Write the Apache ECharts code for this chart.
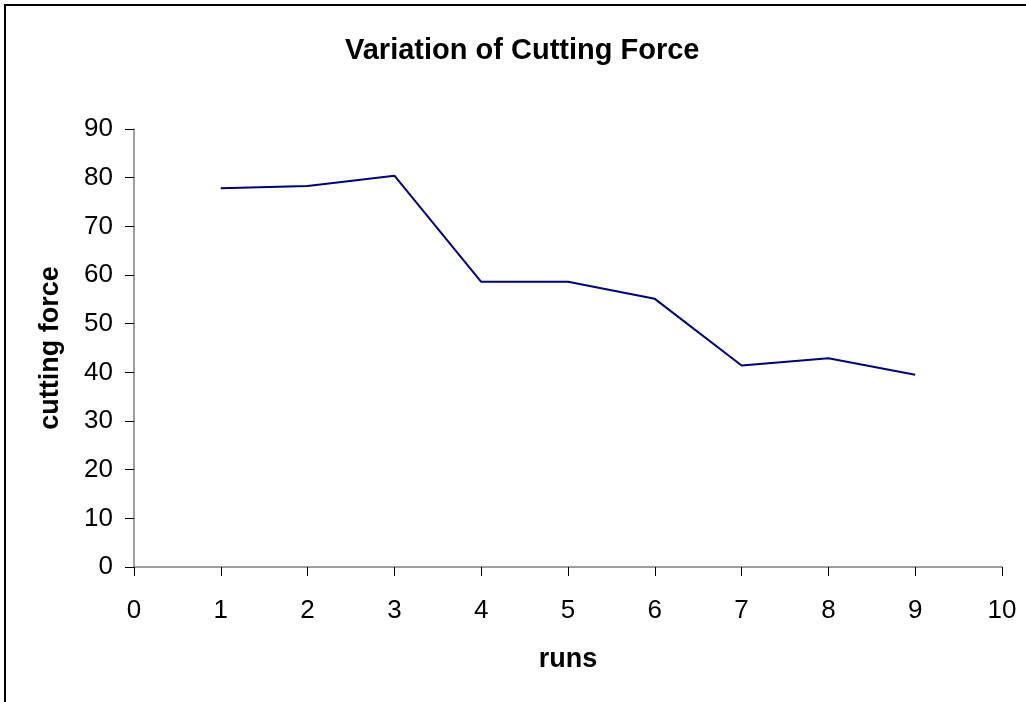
<!DOCTYPE html>
<html>
<head>
<meta charset="utf-8">
<script src="https://cdn.jsdelivr.net/npm/echarts@6/dist/echarts.min.js"></script>
<style>
html,body{margin:0;padding:0;background:#fff;}
#main{width:1026px;height:702px;}
</style>
</head>
<body>
<div id="main"></div>
<script>
var runs = [1, 2, 3, 4, 5, 6, 7, 8, 9];
var cuttingForce = [77.8, 78.3, 80.4, 58.6, 58.6, 55.1, 41.4, 42.9, 39.5];
var xTicks = [0, 1, 2, 3, 4, 5, 6, 7, 8, 9, 10];
var yTicks = [0, 10, 20, 30, 40, 50, 60, 70, 80, 90];

var chart = echarts.init(document.getElementById('main'));
var font = 'Liberation Sans, Arial, sans-serif';
chart.setOption({
  animation: false,
  backgroundColor: '#fff',
  title: {
    text: 'Variation of Cutting Force',
    left: 340,
    top: 31,
    textStyle: {fontFamily: font, fontSize: 29, fontWeight: 'bold', color: '#000'}
  },
  graphic: [{
    type: 'rect',
    shape: {x: 5, y: 5, width: 1100, height: 800},
    style: {fill: 'none', stroke: '#000', lineWidth: 2},
    silent: true
  }],
  grid: {left: 134, right: 24, top: 129, bottom: 135, containLabel: false},
  xAxis: {
    type: 'value',
    min: xTicks[0],
    max: xTicks[xTicks.length - 1],
    interval: 1,
    name: 'runs',
    nameLocation: 'middle',
    nameGap: 79,
    nameTextStyle: {fontFamily: font, fontSize: 27, fontWeight: 'bold', color: '#000'},
    axisLine: {show: true, lineStyle: {color: '#808080', width: 1.5}},
    axisTick: {show: true, length: 9, lineStyle: {color: '#000', width: 1}},
    axisLabel: {fontFamily: font, fontSize: 26, color: '#000', margin: 31},
    splitLine: {show: false}
  },
  yAxis: {
    type: 'value',
    min: yTicks[0],
    max: yTicks[yTicks.length - 1],
    interval: 10,
    name: 'cutting force',
    nameLocation: 'middle',
    nameGap: 70,
    nameTextStyle: {fontFamily: font, fontSize: 27, fontWeight: 'bold', color: '#000'},
    axisLine: {show: true, lineStyle: {color: '#808080', width: 1.5}},
    axisTick: {show: true, length: 9, lineStyle: {color: '#000', width: 1}},
    axisLabel: {fontFamily: font, fontSize: 26, color: '#000', margin: 21},
    splitLine: {show: false}
  },
  series: [{
    type: 'line',
    data: runs.map(function (r, i) { return [r, cuttingForce[i]]; }),
    showSymbol: false,
    symbol: 'none',
    lineStyle: {color: '#000080', width: 2},
    itemStyle: {color: '#000080'}
  }]
});
</script>
</body>
</html>
